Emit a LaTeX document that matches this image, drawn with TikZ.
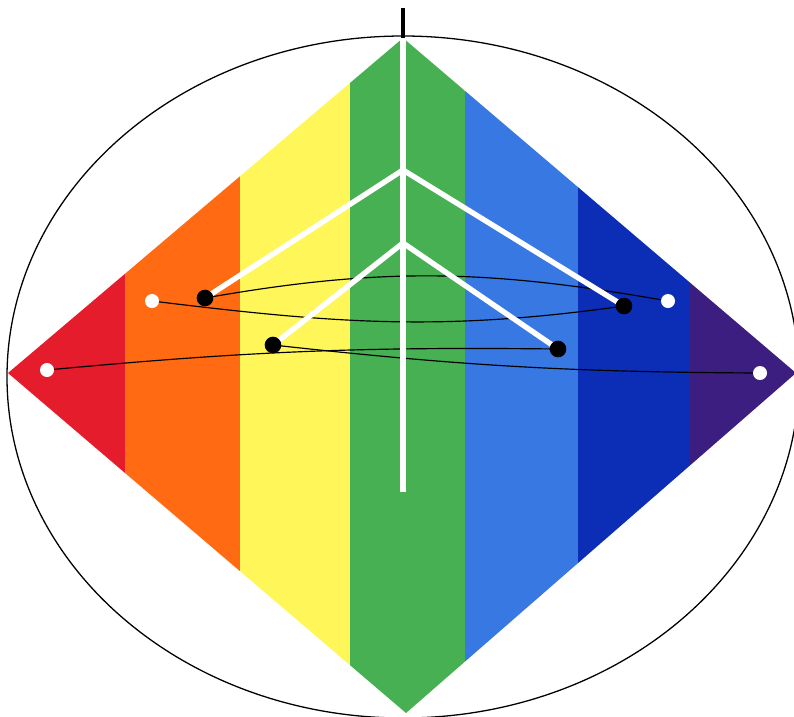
\documentclass[tikz,border=0pt]{standalone}

\definecolor{stripered}{RGB}{228,28,44}
\definecolor{stripeorange}{RGB}{255,106,18}
\definecolor{stripeyellow}{RGB}{255,246,90}
\definecolor{stripegreen}{RGB}{70,176,82}
\definecolor{stripeblue}{RGB}{56,120,226}
\definecolor{stripenavy}{RGB}{12,46,182}
\definecolor{stripeviolet}{RGB}{60,30,128}

\tikzset{
	whiteline/.style={white,line width=4.6pt},
	thinline/.style={black,line width=1pt},
	whitedot/.style={circle,fill=white,inner sep=0pt,minimum size=0.42cm},
	blackdot/.style={circle,fill=black,inner sep=0pt,minimum size=0.5cm}
}

\begin{document}
\begin{tikzpicture}[x=0.03cm,y=-0.03cm]
	\useasboundingbox (0,0) rectangle (794,716);
	
	% Diamond corners
	\coordinate (top) at (403,38);
	\coordinate (left) at (8,373);
	\coordinate (right) at (796,373);
	\coordinate (bottom) at (406,713);
	
	% Stripes
	\begin{scope}
		\clip (top) -- (right) -- (bottom) -- (left) -- cycle;
		\fill[stripered] (0,0) rectangle (125,716);
		\fill[stripeorange] (125,0) rectangle (240,716);
		\fill[stripeyellow] (240,0) rectangle (350,716);
		\fill[stripegreen] (350,0) rectangle (465,716);
		\fill[stripeblue] (465,0) rectangle (578,716);
		\fill[stripenavy] (578,0) rectangle (690,716);
		\fill[stripeviolet] (690,0) rectangle (800,716);
	\end{scope}
	
	% Ellipse
	\draw[line width=1.1pt] (403,377) ellipse (396 and 341);
	
	% Tick above the top
	\coordinate (tick) at (403,8);
	\draw[line width=4pt] (tick) -- (top);
	
	% Points
	\coordinate (lb1) at (205,298);
	\coordinate (rb1) at (624,306);
	\coordinate (lb2) at (273,345);
	\coordinate (rb2) at (558,349);
	\coordinate (lw1) at (152,301);
	\coordinate (rw1) at (668,301);
	\coordinate (lw2) at (47,370);
	\coordinate (rw2) at (760,373);
	\coordinate (fork1) at (403,170);
	\coordinate (fork2) at (403,243);
	\coordinate (stem) at (403,492);
	
	% Thin curves
	\draw[thinline] (lb1) to[out=10,in=170] (rw1);
	\draw[thinline] (lw1) to[out=-7,in=-172] (rb1);
	\draw[thinline] (lb2) to[bend right=3] (rw2);
	\draw[thinline] (lw2) to[bend left=3] (rb2);
	
	% White axis and branches
	\draw[whiteline] (top) -- (stem);
	\draw[whiteline] (lb1) -- (fork1) -- (rb1);
	\draw[whiteline] (lb2) -- (fork2) -- (rb2);
	
	% Dots
	\node[blackdot] (dotlb1) at (lb1) {};
	\node[blackdot] (dotrb1) at (rb1) {};
	\node[blackdot] (dotlb2) at (lb2) {};
	\node[blackdot] (dotrb2) at (rb2) {};
	\node[whitedot] (dotlw1) at (lw1) {};
	\node[whitedot] (dotrw1) at (rw1) {};
	\node[whitedot] (dotlw2) at (lw2) {};
	\node[whitedot] (dotrw2) at (rw2) {};
	
\end{tikzpicture}
\end{document}
